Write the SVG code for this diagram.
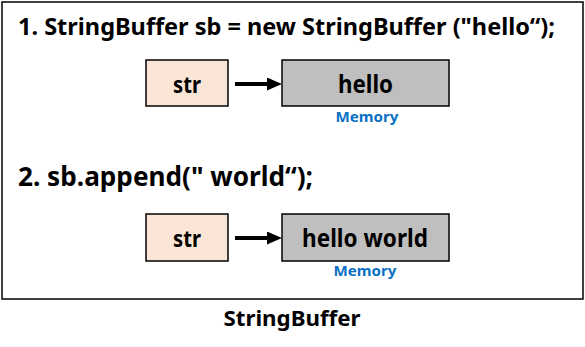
<svg xmlns="http://www.w3.org/2000/svg" width="585" height="347" viewBox="0 0 585 347">
<style>
text{font-family:"Noto Sans","Open Sans",sans-serif;font-weight:bold;fill:#000}
.title{font-size:24px}
.lbl{font-size:23px;text-anchor:middle}
.big{font-size:25px}
.mem{font-size:15px;fill:#0a70c4;text-anchor:middle}
.var{fill:#fbe5d6;stroke:#000;stroke-width:1.5}
.mbox{fill:#bfbfbf;stroke:#000;stroke-width:1.5}
.conn{stroke:#000;stroke-width:4;fill:none}
</style>
<defs>
<marker id="ah" markerWidth="3.75" markerHeight="3.25" refX="0" refY="1.625" orient="auto" markerUnits="strokeWidth">
<path d="M0,0 L3.75,1.625 L0,3.25 Z" fill="#000"/>
</marker>
</defs>
<rect x="2" y="2" width="581" height="297" fill="#fff" stroke="#000" stroke-width="1.5"/>
<text class="title" x="18" y="35" textLength="537" lengthAdjust="spacingAndGlyphs">1. StringBuffer sb = new StringBuffer ("hello“);</text>
<text class="title" x="18" y="186" textLength="295" lengthAdjust="spacingAndGlyphs" style="font-size:26px">2. sb.append(" world“);</text>
<g id="str1"><rect class="var" x="146" y="60" width="82" height="46"/><text class="lbl" x="187" y="93" textLength="28" lengthAdjust="spacingAndGlyphs">str</text></g>
<g id="mem1"><rect class="mbox" x="282" y="60" width="167" height="46"/><text class="lbl big" x="365.5" y="93" textLength="55" lengthAdjust="spacingAndGlyphs">hello</text><text class="mem" x="367" y="122" textLength="63" lengthAdjust="spacingAndGlyphs">Memory</text></g>
<g id="str2"><rect class="var" x="146" y="214" width="82" height="47"/><text class="lbl" x="187" y="247" textLength="28" lengthAdjust="spacingAndGlyphs">str</text></g>
<g id="mem2"><rect class="mbox" x="282" y="214" width="167" height="47"/><text class="lbl big" x="365" y="247" textLength="126" lengthAdjust="spacingAndGlyphs">hello world</text><text class="mem" x="365" y="276" textLength="63" lengthAdjust="spacingAndGlyphs">Memory</text></g>
<g id="connectors">
<line class="conn" x1="235" y1="84" x2="267" y2="84" marker-end="url(#ah)"/>
<line class="conn" x1="235" y1="238" x2="267" y2="238" marker-end="url(#ah)"/>
</g>
<text x="292" y="326" style="font-size:22px;text-anchor:middle" textLength="137" lengthAdjust="spacingAndGlyphs">StringBuffer</text>
</svg>
